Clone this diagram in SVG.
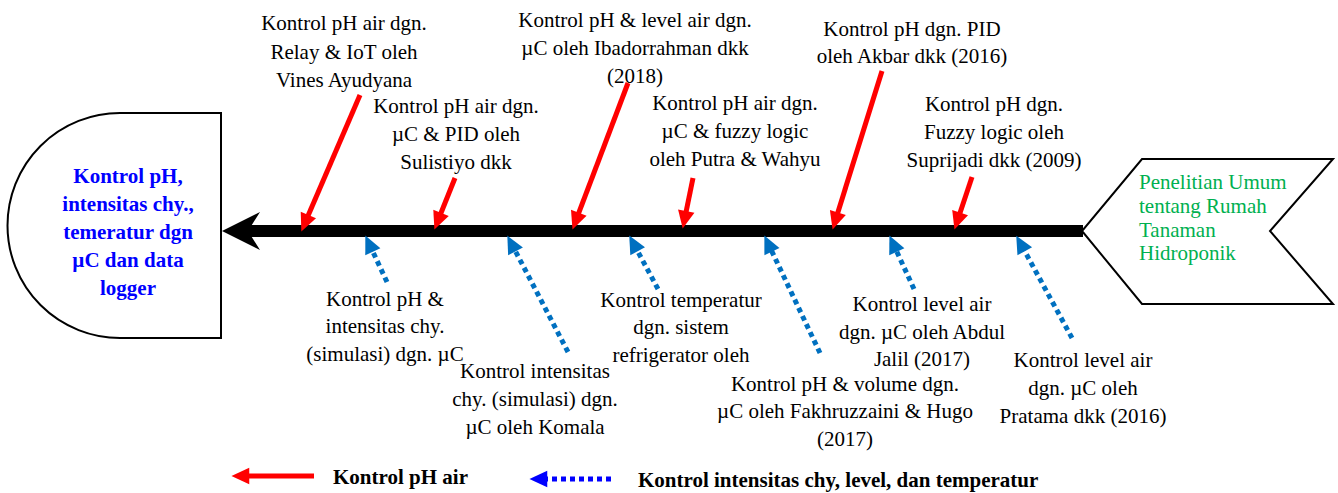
<svg xmlns="http://www.w3.org/2000/svg" width="1338" height="493" viewBox="0 0 1338 493">
<style>
text{font-family:'Liberation Serif','Times New Roman','DejaVu Serif',serif}
.t{font-size:21px;fill:#000;text-anchor:middle}
.head{font-size:21px;font-weight:bold;fill:#0000FF;text-anchor:middle}
.tail{font-size:21px;fill:#00B050}
.leg{font-size:21px;font-weight:bold;fill:#000}
.shape{fill:#fff;stroke:#000;stroke-width:2}
.red{stroke:#FF0000;stroke-width:5;fill:none;marker-end:url(#ra)}
.blue{stroke:#0070C0;stroke-width:5;fill:none;stroke-dasharray:5 4;marker-end:url(#ba)}
.blueleg{stroke:#0000FF;stroke-width:5;fill:none;stroke-dasharray:5 4;marker-end:url(#bla)}
</style>
<defs>
<marker id="ra" markerUnits="userSpaceOnUse" markerWidth="20" markerHeight="20" refX="1" refY="0" viewBox="-1 -8 18 16" orient="auto" overflow="visible">
<path d="M-1,-7.5 L15,0 L-1,7.5 z" fill="#FF0000"/>
</marker>
<marker id="ba" markerUnits="userSpaceOnUse" markerWidth="20" markerHeight="20" refX="1" refY="0" viewBox="-1 -8 18 16" orient="auto" overflow="visible">
<path d="M-1,-7.5 L15,0 L-1,7.5 z" fill="#0070C0"/>
</marker>
<marker id="bla" markerUnits="userSpaceOnUse" markerWidth="20" markerHeight="20" refX="1" refY="0" viewBox="-1 -8 18 16" orient="auto" overflow="visible">
<path d="M-1,-7.5 L15,0 L-1,7.5 z" fill="#0000FF"/>
</marker>
</defs>
<rect width="1338" height="493" fill="#fff"/>

<g id="node-effect">
<path class="shape" d="M221,113 L120,113 A112.5,112.5 0 0 0 120,338 L221,338 Z"/>
<text class="head" x="128" y="183">Kontrol pH,</text>
<text class="head" x="128" y="211">intensitas chy.,</text>
<text class="head" x="128" y="239">temeratur dgn</text>
<text class="head" x="128" y="267">µC dan data</text>
<text class="head" x="128" y="295">logger</text>
</g>

<g id="node-tail">
<path class="shape" d="M1142,159 L1333,159 L1270,231 L1333,304 L1142,304 L1082,231 Z"/>
<text class="tail" x="1139" y="189">Penelitian Umum</text>
<text class="tail" x="1139" y="213">tentang Rumah</text>
<text class="tail" x="1139" y="237">Tanaman</text>
<text class="tail" x="1139" y="260">Hidroponik</text>
</g>

<g id="spine">
<rect x="246" y="225" width="837" height="12" fill="#000"/>
<path d="M222,231 L260,212 L248,231 L260,250 Z" fill="#000"/>
</g>

<g id="connectors">
<path class="red" d="M360,95 L307.5,217.1"/>
<path class="red" d="M455,178 L440.2,215"/>
<path class="red" d="M628,83 L578,214.9"/>
<path class="red" d="M693,178 L685.8,213.3"/>
<path class="red" d="M882,71 L837.2,214.6"/>
<path class="red" d="M972,177 L959.4,214.7"/>
<path class="blue" d="M387,282 L371.9,249.7"/>
<path class="blue" d="M568,352 L514.5,249.4"/>
<path class="blue" d="M658,289 L636.6,249.3"/>
<path class="blue" d="M820,353 L771,249.6"/>
<path class="blue" d="M914,289 L895.9,249.7"/>
<path class="blue" d="M1072,338 L1023.7,249.3"/>
</g>

<g id="cause-relay">
<text class="t" x="344" y="30">Kontrol pH air dgn.</text>
<text class="t" x="344" y="59">Relay &amp; IoT oleh</text>
<text class="t" x="344" y="87">Vines Ayudyana</text>
</g>
<g id="cause-pid-sulistiyo">
<text class="t" x="456" y="113">Kontrol pH air dgn.</text>
<text class="t" x="456" y="141">µC &amp; PID oleh</text>
<text class="t" x="456" y="169">Sulistiyo dkk</text>
</g>
<g id="cause-ibadorrahman">
<text class="t" x="635" y="27">Kontrol pH &amp; level air dgn.</text>
<text class="t" x="635" y="55">µC oleh Ibadorrahman dkk</text>
<text class="t" x="635" y="83">(2018)</text>
</g>
<g id="cause-putra">
<text class="t" x="735" y="110">Kontrol pH air dgn.</text>
<text class="t" x="735" y="138">µC &amp; fuzzy logic</text>
<text class="t" x="735" y="166">oleh Putra &amp; Wahyu</text>
</g>
<g id="cause-akbar">
<text class="t" x="912" y="36">Kontrol pH dgn. PID</text>
<text class="t" x="912" y="63">oleh Akbar dkk (2016)</text>
</g>
<g id="cause-suprijadi">
<text class="t" x="994" y="111">Kontrol pH dgn.</text>
<text class="t" x="994" y="139">Fuzzy logic oleh</text>
<text class="t" x="994" y="167">Suprijadi dkk (2009)</text>
</g>
<g id="cause-simulasi-ph">
<text class="t" x="385" y="306">Kontrol pH &amp;</text>
<text class="t" x="385" y="333">intensitas chy.</text>
<text class="t" x="385" y="361">(simulasi) dgn. µC</text>
</g>
<g id="cause-komala">
<text class="t" x="535" y="378">Kontrol intensitas</text>
<text class="t" x="535" y="406">chy. (simulasi) dgn.</text>
<text class="t" x="535" y="434">µC oleh Komala</text>
</g>
<g id="cause-refrigerator">
<text class="t" x="681" y="307">Kontrol temperatur</text>
<text class="t" x="681" y="334">dgn. sistem</text>
<text class="t" x="681" y="362">refrigerator oleh</text>
</g>
<g id="cause-fakhruzzaini">
<text class="t" x="845" y="391">Kontrol pH &amp; volume dgn.</text>
<text class="t" x="845" y="418">µC oleh Fakhruzzaini &amp; Hugo</text>
<text class="t" x="845" y="446">(2017)</text>
</g>
<g id="cause-jalil">
<text class="t" x="922" y="311">Kontrol level air</text>
<text class="t" x="922" y="339">dgn. µC oleh Abdul</text>
<text class="t" x="922" y="366">Jalil (2017)</text>
</g>
<g id="cause-pratama">
<text class="t" x="1083" y="367">Kontrol level air</text>
<text class="t" x="1083" y="395">dgn. µC oleh</text>
<text class="t" x="1083" y="423">Pratama dkk (2016)</text>
</g>

<g id="legend">
<path class="red" d="M314,476 L247,476"/>
<text class="leg" x="333" y="484">Kontrol pH air</text>
<path class="blueleg" d="M611,479 L545,479"/>
<text class="leg" x="638" y="487">Kontrol intensitas chy, level, dan temperatur</text>
</g>
</svg>
